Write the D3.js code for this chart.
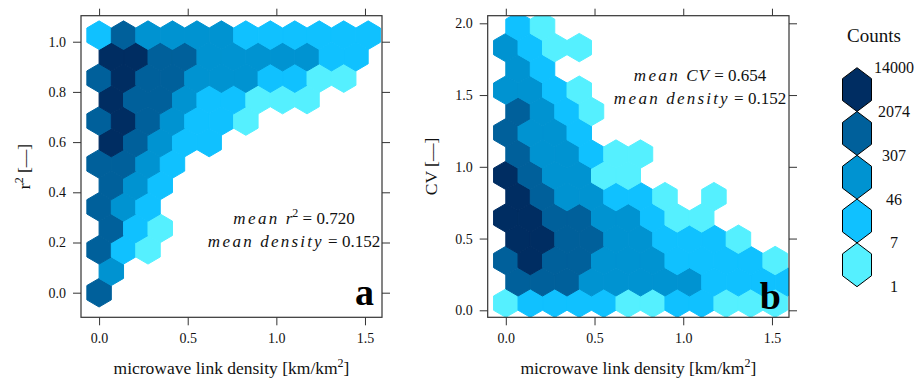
<!DOCTYPE html>
<html>
<head>
<meta charset="utf-8">
<script src="https://cdnjs.cloudflare.com/ajax/libs/d3/7.8.5/d3.min.js"></script>
<style>
    body { margin: 0; background: #fff; }
    svg { display: block; font-family: "Liberation Serif", "DejaVu Serif", serif; }
</style>
</head>
<body>
<div id="chart"></div>
<script>
// tick values
const xTicks = [0, 0.5, 1.0, 1.5];
const r2Ticks = [0, 0.2, 0.4, 0.6, 0.8, 1.0];
const cvTicks = [0, 0.5, 1.0, 1.5, 2.0];

// legend breaks (counts) and colours, light -> dark
const countBreaks = [1, 7, 46, 307, 2074, 14000];
const countColors = ["#55F0FF", "#10C1FF", "#0093D1", "#00609B", "#002D62"];

// hexbin grid: one array per grid row, bottom row first.
// value = count class (1: 1-7, 2: 7-46, 3: 46-307, 4: 307-2074, 5: 2074-14000), 0 = empty
const r2Cells = [
    [4],
    [3],
    [4, 2, 1],
    [4, 2, 1],
    [4, 3, 2],
    [4, 3, 2],
    [4, 4, 3, 2],
    [5, 4, 3, 2, 2],
    [4, 5, 4, 3, 2, 2, 1],
    [5, 4, 4, 3, 2, 2, 1, 1, 1],
    [4, 5, 4, 4, 3, 3, 3, 2, 2, 1, 1],
    [5, 5, 4, 4, 3, 3, 3, 3, 3, 2, 2],
    [2, 4, 3, 3, 3, 3, 2, 2, 2, 2, 2, 2]
];

const cvCells = [
    [1, 2, 2, 2, 2, 1, 1, 2, 2, 1, 1, 1],
    [4, 4, 4, 3, 3, 3, 3, 3, 2, 2, 2, 2],
    [4, 5, 4, 4, 3, 3, 3, 2, 2, 2, 2, 1],
    [5, 5, 4, 4, 3, 3, 2, 2, 2, 1],
    [5, 5, 4, 4, 3, 3, 2, 1, 1],
    [5, 4, 3, 3, 2, 2, 1, 0, 1],
    [5, 4, 3, 3, 1, 1],
    [4, 3, 3, 2, 1, 1],
    [4, 3, 3, 2],
    [4, 3, 2, 1],
    [3, 3, 2, 1],
    [3, 2],
    [3, 2, 1, 1],
    [2, 1]
];

// hex bin size in data units
const binX = 0.138;
const r2Bin = { y0: 0, dy: 0.0855 };
const cvBin = { y0: 0.05, dy: 0.1484 };

const xDomain = [-0.102, 1.596];

class HexPanel {
    constructor(svg, config) {
        this.svg = svg;
        this.config = config;
        this.initVis();
    }

    initVis() {
        let vis = this;
        let c = vis.config;

        vis.x = d3.scaleLinear().domain(xDomain).range([c.left, c.left + c.width]);
        vis.y = d3.scaleLinear().domain(c.yDomain).range([c.top + c.height, c.top]);

        vis.g = vis.svg.append("g");

        vis.g.append("clipPath")
            .attr("id", "clip-" + c.id)
            .append("rect")
            .attr("x", c.left)
            .attr("y", c.top)
            .attr("width", c.width)
            .attr("height", c.height);

        vis.wrangleData();
    }

    wrangleData() {
        let vis = this;
        let c = vis.config;

        // flatten grid rows into hex centres (data units)
        vis.hexes = [];
        c.cells.forEach((row, r) => {
            row.forEach((level, i) => {
                if (level === 0) return;
                vis.hexes.push({
                    x: (i + (r % 2) * 0.5) * binX,
                    y: c.bin.y0 + r * c.bin.dy,
                    level: level
                });
            });
        });

        vis.updateVis();
    }

    updateVis() {
        let vis = this;
        let c = vis.config;

        // hex size in pixels from the scales
        let w = vis.x(binX) - vis.x(0);
        let rowH = vis.y(0) - vis.y(c.bin.dy);
        let R = rowH / 1.5;
        let hexPath = `M0,${-R}L${w / 2},${-R / 2}L${w / 2},${R / 2}L0,${R}L${-w / 2},${R / 2}L${-w / 2},${-R / 2}Z`;

        vis.g.append("g")
            .attr("clip-path", `url(#clip-${c.id})`)
            .selectAll("path")
            .data(vis.hexes)
            .enter()
            .append("path")
            .attr("d", hexPath)
            .attr("transform", d => `translate(${vis.x(d.x)},${vis.y(d.y)})`)
            .attr("fill", d => countColors[d.level - 1])
            .attr("stroke", d => countColors[d.level - 1])
            .attr("stroke-width", 1)
            .attr("stroke-linejoin", "round");

        // axes on all four sides, lattice style
        let fmt = d3.format(".1f");
        let bottom = vis.g.append("g")
            .attr("transform", `translate(0,${c.top + c.height})`)
            .call(d3.axisBottom(vis.x).tickValues(xTicks).tickFormat(fmt).tickSize(8).tickPadding(8));
        let left = vis.g.append("g")
            .attr("transform", `translate(${c.left},0)`)
            .call(d3.axisLeft(vis.y).tickValues(c.yTicks).tickFormat(fmt).tickSize(8).tickPadding(7));
        let top = vis.g.append("g")
            .attr("transform", `translate(0,${c.top})`)
            .call(d3.axisTop(vis.x).tickValues(xTicks).tickFormat("").tickSize(7));
        let right = vis.g.append("g")
            .attr("transform", `translate(${c.left + c.width},0)`)
            .call(d3.axisRight(vis.y).tickValues(c.yTicks).tickFormat("").tickSize(8));

        [bottom, left, top, right].forEach(a => {
            a.select(".domain").remove();
            a.selectAll("line").attr("stroke", "#333");
            a.selectAll("text")
                .attr("font-family", "Liberation Serif, serif")
                .attr("font-size", 14)
                .attr("fill", "#111");
        });

        vis.g.append("rect")
            .attr("x", c.left)
            .attr("y", c.top)
            .attr("width", c.width)
            .attr("height", c.height)
            .attr("fill", "none")
            .attr("stroke", "#333")
            .attr("stroke-width", 1.2);

        // x axis title
        let xt = vis.g.append("text")
            .attr("x", c.left + c.width / 2)
            .attr("y", 374)
            .attr("text-anchor", "middle")
            .attr("font-size", 17.5)
            .attr("fill", "#111");
        xt.append("tspan").text("microwave link density [km/km");
        xt.append("tspan").attr("dy", -7).attr("font-size", 12).text("2");
        xt.append("tspan").attr("dy", 7).text("]");

        // y axis title
        let yt = vis.g.append("text")
            .attr("transform", `translate(${c.left - 51},${c.top + c.height / 2}) rotate(-90)`)
            .attr("text-anchor", "middle")
            .attr("font-size", 17.5)
            .attr("fill", "#111");
        if (c.yLabelSup) {
            yt.append("tspan").text(c.yLabel);
            yt.append("tspan").attr("dy", -7).attr("font-size", 12).text(c.yLabelSup);
            yt.append("tspan").attr("dy", 7).text(" [\u2013\u2013]");
        } else {
            yt.append("tspan").text(c.yLabel + " [\u2013\u2013]");
        }

        // mean annotation
        c.notes.forEach((n, i) => {
            let t = vis.g.append("text")
                .attr("x", c.noteX)
                .attr("y", c.noteY + i * 23)
                .attr("text-anchor", "middle")
                .attr("font-size", 17)
                .attr("fill", "#111");
            t.append("tspan").attr("font-style", "italic").attr("letter-spacing", 2.4).text("mean");
            t.append("tspan").attr("dx", 6).attr("font-style", "italic").attr("letter-spacing", n.spacing).text(n.name);
            if (n.sup) {
                t.append("tspan").attr("dy", -7).attr("font-size", 12).text(n.sup);
                t.append("tspan").attr("dy", 7).text(" = " + n.value);
            } else {
                t.append("tspan").text(" = " + n.value);
            }
        });

        // panel letter
        vis.g.append("text")
            .attr("x", c.left + c.width - 8)
            .attr("y", c.letterY)
            .attr("text-anchor", "end")
            .attr("font-size", 38)
            .attr("font-weight", "bold")
            .attr("fill", "#000")
            .text(c.letter);
    }
}

let svg = d3.select("#chart").append("svg")
    .attr("width", 919)
    .attr("height", 382);

let panelA = new HexPanel(svg, {
    id: "a", left: 81, top: 15.7, width: 301, height: 301.6,
    yDomain: [-0.098, 1.1036], yTicks: r2Ticks, cells: r2Cells, bin: r2Bin,
    yLabel: "r", yLabelSup: "2", letter: "a", letterY: 305,
    noteX: 294, noteY: 224,
    notes: [
        { name: "r", sup: "2", value: "0.720", spacing: 0 },
        { name: "density", value: "0.152", spacing: 2.2 }
    ]
});

let panelB = new HexPanel(svg, {
    id: "b", left: 487.7, top: 15.7, width: 301.3, height: 301.6,
    yDomain: [-0.0488, 2.053], yTicks: cvTicks, cells: cvCells, bin: cvBin,
    yLabel: "CV", letter: "b", letterY: 309,
    noteX: 700, noteY: 81,
    notes: [
        { name: "CV", value: "0.654", spacing: 1 },
        { name: "density", value: "0.152", spacing: 2.2 }
    ]
});

// legend
let legendX = 857;
let legendY = d3.scaleLinear().domain([0, 5]).range([67.7, 286.7]);
let legendLevels = d3.range(5).map(i => 4 - i);  // dark on top
let lh = (legendY(1) - legendY(0)) / 2;
let lw = 14.5;
let legendHex = `M0,${-lh}L${lw},${-lh / 2}L${lw},${lh / 2}L0,${lh}L${-lw},${lh / 2}L${-lw},${-lh / 2}Z`;

svg.append("text")
    .attr("x", 874)
    .attr("y", 42)
    .attr("text-anchor", "middle")
    .attr("font-size", 19)
    .attr("fill", "#111")
    .text("Counts");

svg.append("g")
    .selectAll("path")
    .data(legendLevels)
    .enter()
    .append("path")
    .attr("d", legendHex)
    .attr("transform", (d, i) => `translate(${legendX},${legendY(i + 0.5)})`)
    .attr("fill", d => countColors[d])
    .attr("stroke", "#000")
    .attr("stroke-width", 1);

svg.append("g")
    .selectAll("text")
    .data(countBreaks.slice().reverse())
    .enter()
    .append("text")
    .attr("x", 894)
    .attr("y", (d, i) => legendY(i) + 5.5)
    .attr("text-anchor", "middle")
    .attr("font-size", 16)
    .attr("fill", "#111")
    .text(d => d);
</script>
</body>
</html>
